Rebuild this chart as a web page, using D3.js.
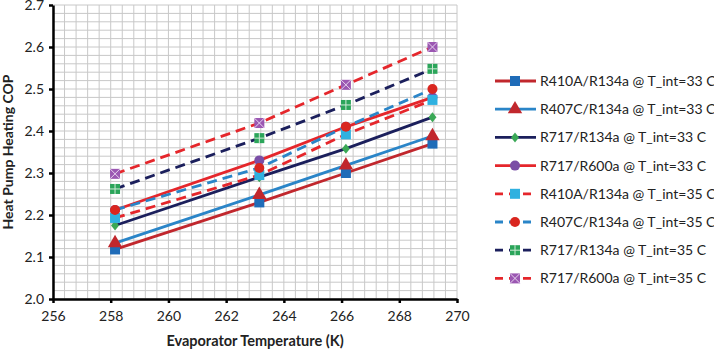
<!DOCTYPE html>
<html>
<head>
<meta charset="utf-8">
<script src="https://cdn.jsdelivr.net/npm/d3@7"></script>
<style>
  body { margin: 0; background: #fff; }
  text { font-family: Lato, "Open Sans", sans-serif; fill: #222; }
</style>
</head>
<body>
<div id="graf"></div>
<script>
// Datos
temps = [258.15, 263.15, 266.15, 269.15]
nombres = [
  'R410A/R134a @ T_int=33 C',
  'R407C/R134a @ T_int=33 C',
  'R717/R134a @ T_int=33 C',
  'R717/R600a @ T_int=33 C',
  'R410A/R134a @ T_int=35 C',
  'R407C/R134a @ T_int=35 C',
  'R717/R134a @ T_int=35 C',
  'R717/R600a @ T_int=35 C'
]
r410a_33 = [2.118, 2.230, 2.300, 2.370]
r407c_33 = [2.133, 2.248, 2.318, 2.388]
r717_134_33 = [2.175, 2.290, 2.358, 2.433]
r717_600_33 = [2.212, 2.330, 2.410, 2.480]
r410a_35 = [2.193, 2.295, 2.392, 2.474]
r407c_35 = [2.212, 2.312, 2.410, 2.500]
r717_134_35 = [2.262, 2.383, 2.462, 2.548]
r717_600_35 = [2.298, 2.419, 2.510, 2.600]
xTicks = [256, 258, 260, 262, 264, 266, 268, 270]
yTicks = [2.0, 2.1, 2.2, 2.3, 2.4, 2.5, 2.6, 2.7]

valores = [r410a_33, r407c_33, r717_134_33, r717_600_33, r410a_35, r407c_35, r717_134_35, r717_600_35]

// Estilos de cada serie
estilos = [
  { linea: '#c1272d', dash: null,   marca: 'square',   relleno: '#1f6cb8' },
  { linea: '#2a85c8', dash: null,   marca: 'triangle', relleno: '#c1272d' },
  { linea: '#1b1f5c', dash: null,   marca: 'diamond',  relleno: '#3aa856' },
  { linea: '#e5262b', dash: null,   marca: 'circle',   relleno: '#7a4ea6' },
  { linea: '#e5262b', dash: '10,6', marca: 'square',   relleno: '#2fb1e0' },
  { linea: '#2a85c8', dash: '10,6', marca: 'circle',   relleno: '#d9261f' },
  { linea: '#1b1f5c', dash: '10,6', marca: 'plus',     relleno: '#2ba55a' },
  { linea: '#e5262b', dash: '10,6', marca: 'cross',    relleno: '#9b57b2' }
]

series = nombres.map((n, i) => ({
  nombre: n,
  estilo: estilos[i],
  puntos: temps.map((t, j) => ({ t: t, v: valores[i][j] }))
}))

ancho_total = 714
alto_total = 350
margins = { top: 5, left: 53, right: 257, bottom: 51 }
ancho = ancho_total - margins.left - margins.right
alto = alto_total - margins.top - margins.bottom

svg = d3.select('#graf').append('svg')
  .attr('width', ancho_total)
  .attr('height', alto_total)

g = svg.append('g')
  .attr('transform', `translate(${margins.left}, ${margins.top})`)

x = d3.scaleLinear().domain([256, 270]).range([0, ancho])
y = d3.scaleLinear().domain([2.0, 2.7]).range([alto, 0])

// Rejilla menor
xGrid = d3.range(0, 36).map(i => 256 + i * 0.4)
yGrid = d3.range(0, 36).map(i => 2.0 + i * 0.02)
g.append('g').selectAll('line').data(xGrid).join('line')
  .attr('x1', d => x(d)).attr('x2', d => x(d))
  .attr('y1', 0).attr('y2', alto)
  .attr('stroke', '#c8c8c8').attr('stroke-width', 1)
g.append('g').selectAll('line').data(yGrid).join('line')
  .attr('x1', 0).attr('x2', ancho)
  .attr('y1', d => y(d)).attr('y2', d => y(d))
  .attr('stroke', '#c8c8c8').attr('stroke-width', 1)

// Ejes
xAxis = g.append('g')
  .attr('transform', `translate(0, ${alto})`)
  .call(d3.axisBottom(x).tickValues(xTicks).tickFormat(d3.format('d')).tickSize(4).tickSizeOuter(0))
yAxis = g.append('g')
  .call(d3.axisLeft(y).tickValues(yTicks).tickFormat(d3.format('.1f')).tickSize(4).tickSizeOuter(0))

;[xAxis, yAxis].forEach(a => {
  a.select('.domain').attr('stroke', '#000').attr('stroke-width', 2.5)
  a.selectAll('.tick line').attr('stroke', '#000').attr('stroke-width', 2.5)
  a.selectAll('.tick text').style('font-size', '14px').attr('fill', '#222')
})
xAxis.selectAll('.tick text').attr('dy', '1.1em')
yAxis.selectAll('.tick text').attr('x', -9)

// Titulos
svg.append('text')
  .attr('x', margins.left + ancho / 2)
  .attr('y', 346)
  .attr('text-anchor', 'middle')
  .style('font-size', '14.5px').style('font-weight', 'bold')
  .text('Evaporator Temperature (K)')
svg.append('text')
  .attr('transform', `translate(13, ${margins.top + alto / 2}) rotate(-90)`)
  .attr('text-anchor', 'middle')
  .style('font-size', '14px').style('font-weight', 'bold')
  .text('Heat Pump Heating COP')

// Generador de lineas
lineaGen = d3.line().x(d => x(d.t)).y(d => y(d.v))

function marcador(sel, tipo, color, s) {
  let h = s / 2
  if (tipo == 'square' || tipo == 'plus' || tipo == 'cross') {
    sel.append('rect').attr('x', -h).attr('y', -h).attr('width', s).attr('height', s).attr('fill', color)
    if (tipo == 'plus') {
      sel.append('path').attr('d', `M0,${-h}V${h}M${-h},0H${h}`).attr('stroke', '#cfe9d6').attr('stroke-width', 1)
    }
    if (tipo == 'cross') {
      sel.append('path').attr('d', `M${-h},${-h}L${h},${h}M${-h},${h}L${h},${-h}`).attr('stroke', '#e6d3ee').attr('stroke-width', 1)
    }
  } else if (tipo == 'triangle') {
    sel.append('path').attr('d', d3.symbol(d3.symbolTriangle, s * s * 0.9)()).attr('fill', color)
  } else if (tipo == 'diamond') {
    sel.append('path').attr('d', `M0,${-h}L${h * 0.8},0L0,${h}L${-h * 0.8},0Z`).attr('fill', color)
  } else {
    sel.append('circle').attr('r', h).attr('fill', color)
  }
}

series.forEach(s => {
  g.append('path')
    .attr('d', lineaGen(s.puntos))
    .attr('fill', 'none')
    .attr('stroke', s.estilo.linea)
    .attr('stroke-width', 2.8)
    .attr('stroke-dasharray', s.estilo.dash)
})
series.forEach(s => {
  s.puntos.forEach(p => {
    let m = g.append('g').attr('transform', `translate(${x(p.t)}, ${y(p.v)})`)
    marcador(m, s.estilo.marca, s.estilo.relleno, 10)
  })
})

// Leyenda
leyenda = svg.append('g').attr('transform', 'translate(495, 81)')
series.forEach((s, i) => {
  let fila = leyenda.append('g').attr('transform', `translate(0, ${i * 28.2})`)
  fila.append('line')
    .attr('x1', 0).attr('x2', 41).attr('y1', 0).attr('y2', 0)
    .attr('stroke', s.estilo.linea).attr('stroke-width', 2.8)
    .attr('stroke-dasharray', s.estilo.dash ? '8,6' : null)
  let m = fila.append('g').attr('transform', 'translate(20, 0)')
  marcador(m, s.estilo.marca, s.estilo.relleno, 10)
  fila.append('text')
    .attr('x', 45).attr('y', 0).attr('dy', '0.35em')
    .style('font-size', '14px')
    .text(s.nombre)
})
</script>
</body>
</html>
